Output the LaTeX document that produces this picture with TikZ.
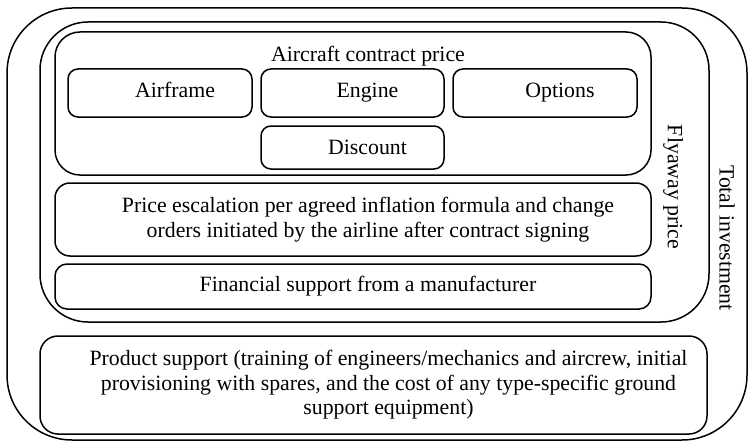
\documentclass[tikz,border=0pt]{standalone}
\usepackage{fontspec}
\setmainfont{Liberation Serif}
\usetikzlibrary{positioning}

\begin{document}
\begin{tikzpicture}[x=1pt, y=-1pt,
  frame/.style={draw, line width=1.5pt, inner sep=0pt, outer sep=0pt},
  part/.style={frame, rounded corners=10pt, minimum width=184pt, minimum height=48pt,
    text height=14.5pt, text depth=4.5pt, txt, indent},
  txt/.style={font=\fontsize{21.8}{24.5}\selectfont, align=center},
  indent/.style={execute at begin node=\hspace*{30pt}}]
  \useasboundingbox (0,0) rectangle (750,444);

  % outer frames
  \node[frame, rounded corners=65pt, minimum width=740pt, minimum height=432pt] (total) at (377,224) {};
  \node[frame, rounded corners=48pt, minimum width=669pt, minimum height=300pt] (flyaway) at (374.5,172) {};
  \node[frame, rounded corners=25pt, minimum width=596pt, minimum height=143pt] (contract) at (353,103.5) {};
  \node[txt, indent, anchor=base] (contracttxt) at (353,62) {Aircraft contract price};

  % contract parts
  \node[part] (airframe) at (160,93) {Airframe};
  \node[part, minimum width=183pt, right=9pt of airframe] (engine) {Engine};
  \node[part, right=9pt of engine] (options) {Options};
  \node[part, minimum width=183pt, minimum height=43pt, text depth=1.5pt, below=9pt of engine] (discount) {Discount};

  % other cost items
  \node[frame, txt, indent, rounded corners=15pt, minimum width=596pt, minimum height=73pt] (escalation) at (353,219.5)
    {Price escalation per agreed inflation formula and change\\orders initiated by the airline after contract signing};
  \node[frame, txt, indent, rounded corners=12pt, minimum width=596pt, minimum height=45pt] (finance) at (353,286.5)
    {Financial support from a manufacturer};
  \node[frame, txt, indent, rounded corners=18pt, minimum width=667pt, minimum height=98pt] (product) at (373.5,385)
    {Product support (training of engineers/mechanics and aircrew, initial\\provisioning with spares, and the cost of any type-specific ground\\support equipment)};

  % side labels
  \node[txt, rotate=-90] (flyawaytxt) at (673,187) {Flyaway price};
  \node[txt, rotate=-90] (totaltxt) at (727,238) {Total investment};
\end{tikzpicture}
\end{document}
